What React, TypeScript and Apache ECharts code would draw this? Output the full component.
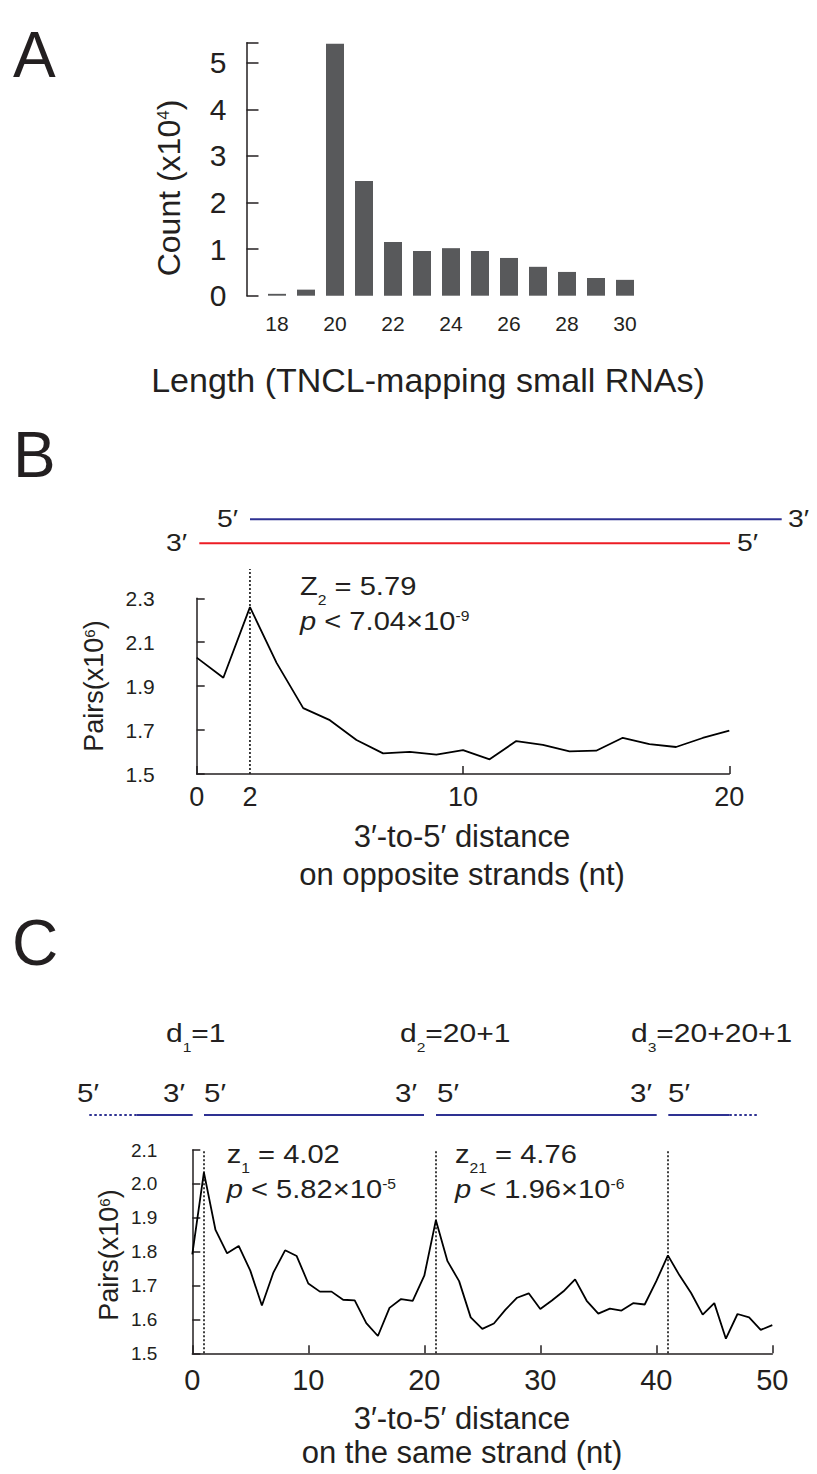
import React, { useEffect, useRef } from 'react';
import * as echarts from 'echarts';

const FONT = '"Liberation Sans", Arial, Helvetica, sans-serif';
const INK = '#231f20';
const BAR = '#58595b';
const BLUE = '#2e3192';
const RED = '#ed1c24';

// ---- Panel A: small RNA length distribution (count x10^4)
const lengthCategories = ['18', '19', '20', '21', '22', '23', '24', '25', '26', '27', '28', '29', '30'];
const lengthCounts = [0.04, 0.13, 5.41, 2.46, 1.15, 0.96, 1.02, 0.96, 0.81, 0.62, 0.51, 0.38, 0.34];

// ---- Panel B: 3'-to-5' distance on opposite strands (pairs x10^6)
const oppositeDistances = [0, 1, 2, 3, 4, 5, 6, 7, 8, 9, 10, 11, 12, 13, 14, 15, 16, 17, 18, 19, 20];
const oppositePairs = [2.03, 1.938, 2.26, 2.006, 1.8, 1.745, 1.655, 1.594, 1.601, 1.588, 1.609, 1.567, 1.65, 1.633, 1.603, 1.606, 1.665, 1.636, 1.623, 1.664, 1.697];
const oppositeLabelValues = [0, 2, 10, 20];
const oppositeTickValues = [0, 10, 20];
const oppositePeaks = [2];

// ---- Panel C: 3'-to-5' distance on the same strand (pairs x10^6)
const sameDistances = [0, 1, 2, 3, 4, 5, 6, 7, 8, 9, 10, 11, 12, 13, 14, 15, 16, 17, 18, 19, 20, 21, 22, 23, 24, 25, 26, 27, 28, 29, 30, 31, 32, 33, 34, 35, 36, 37, 38, 39, 40, 41, 42, 43, 44, 45, 46, 47, 48, 49, 50];
const samePairs = [1.792, 2.034, 1.864, 1.795, 1.817, 1.744, 1.641, 1.739, 1.804, 1.787, 1.706, 1.682, 1.682, 1.658, 1.656, 1.589, 1.551, 1.634, 1.66, 1.655, 1.729, 1.893, 1.772, 1.713, 1.606, 1.572, 1.588, 1.629, 1.664, 1.677, 1.631, 1.656, 1.683, 1.718, 1.655, 1.617, 1.632, 1.626, 1.648, 1.644, 1.713, 1.789, 1.73, 1.678, 1.614, 1.648, 1.543, 1.616, 1.606, 1.569, 1.583];
const samePeaks = [1, 21, 41];

type Part = { t: string; k?: 'm' | 'i' | 'sub' | 'sup' };

function richText(
  parts: Part[],
  F: number,
  x: number,
  baseline: number,
  opts: { align?: string; rotate?: boolean; fill?: string; subDrop?: number; subScale?: number; sx?: number } = {}
) {
  const LH = Math.round(F * 1.2);
  const base = LH / 2 + 0.3465 * F;
  const S = Math.round(F * (opts.subScale ?? 0.54));
  const subBase = base + (opts.subDrop ?? 0.38) * F;
  const subH = 2 * (subBase - 0.3465 * S);
  const supTop = base - 0.716 * F;
  const supBase = supTop + 0.716 * S;
  const supH = Math.max(1, 2 * (supBase - 0.3465 * S));
  const fill = opts.fill ?? INK;
  const common = { fontFamily: FONT, fill, verticalAlign: 'top' };
  const rich = {
    m: { ...common, fontSize: F, height: LH, lineHeight: LH },
    i: { ...common, fontSize: F, height: LH, lineHeight: LH, fontStyle: 'italic' },
    sub: { ...common, fontSize: S, height: subH, lineHeight: subH },
    sup: { ...common, fontSize: S, height: supH, lineHeight: supH },
  };
  const text = parts.map((p) => `{${p.k ?? 'm'}|${p.t}}`).join('');
  const sx = opts.sx ?? 1;
  if (opts.rotate) {
    return {
      type: 'text',
      x: x - base * sx,
      y: baseline,
      rotation: Math.PI / 2,
      scaleY: sx,
      silent: true,
      style: { text, rich, align: 'center', verticalAlign: 'top', fontFamily: FONT, fontSize: F, fill },
    };
  }
  return {
    type: 'text',
    x,
    y: baseline - base,
    scaleX: sx,
    silent: true,
    style: { text, rich, align: opts.align ?? 'left', verticalAlign: 'top', fontFamily: FONT, fontSize: F, fill },
  };
}

function hline(x1: number, x2: number, y: number, color: string, dotted = false) {
  return {
    type: 'line',
    silent: true,
    shape: { x1, y1: y, x2, y2: y },
    style: { stroke: color, lineWidth: 2, lineDash: dotted ? [2.5, 2.5] : null },
  };
}

const axisLineStyle = { color: INK, width: 1.5 };

export default function App() {
  const ref = useRef<HTMLDivElement>(null);

  useEffect(() => {
    if (!ref.current) return;
    const chart = echarts.init(ref.current, null, { renderer: 'svg' });

    const strand = { sx: 1.18 };
    const note = { sx: 1.12 };
    const dlab = { subDrop: 0.42, subScale: 0.5, sx: 1.2 };

    const graphics: any[] = [
      // panel letters
      richText([{ t: 'A' }], 64, 13, 77),
      richText([{ t: 'B' }], 64, 13, 477),
      richText([{ t: 'C' }], 64, 12, 965),

      // Panel A titles
      richText([{ t: 'Count (x10' }, { t: '4', k: 'sup' }, { t: ')' }], 32, 180, 188, { rotate: true }),
      richText([{ t: 'Length (TNCL-mapping small RNAs)' }], 34, 428, 392, { align: 'center' }),

      // Panel B strands
      hline(250, 781.7, 519.3, BLUE),
      hline(199.3, 730, 543.3, RED),
      richText([{ t: '5′' }], 24, 217, 526.7, strand),
      richText([{ t: '3′' }], 24, 788, 526.7, strand),
      richText([{ t: '3′' }], 24, 166, 551, strand),
      richText([{ t: '5′' }], 24, 737, 551, strand),

      // Panel B annotations
      richText([{ t: 'Z' }, { t: '2', k: 'sub' }, { t: ' = 5.79' }], 26, 300, 595, note),
      richText([{ t: 'p', k: 'i' }, { t: ' < 7.04×10' }, { t: '-9', k: 'sup' }], 26, 300, 630, note),
      richText([{ t: 'Pairs(x10' }, { t: '6', k: 'sup' }, { t: ')' }], 27, 103, 686, { rotate: true }),
      richText([{ t: '3′-to-5′ distance' }], 31, 462, 847, { align: 'center' }),
      richText([{ t: 'on opposite strands (nt)' }], 31, 462, 885, { align: 'center' }),

      // Panel C distance labels
      richText([{ t: 'd' }, { t: '1', k: 'sub' }, { t: '=1' }], 25, 166, 1041.7, dlab),
      richText([{ t: 'd' }, { t: '2', k: 'sub' }, { t: '=20+1' }], 25, 400, 1041.7, dlab),
      richText([{ t: 'd' }, { t: '3', k: 'sub' }, { t: '=20+20+1' }], 25, 631, 1041.7, dlab),

      // Panel C strands
      richText([{ t: '5′' }], 25, 77, 1101.7, strand),
      richText([{ t: '3′' }], 25, 163, 1101.7, strand),
      richText([{ t: '5′' }], 25, 204, 1101.7, strand),
      richText([{ t: '3′' }], 25, 395, 1101.7, strand),
      richText([{ t: '5′' }], 25, 437, 1101.7, strand),
      richText([{ t: '3′' }], 25, 630, 1101.7, strand),
      richText([{ t: '5′' }], 25, 668, 1101.7, strand),
      hline(89.3, 136.7, 1115, BLUE, true),
      hline(136.7, 192.7, 1115, BLUE),
      hline(204, 424, 1115, BLUE),
      hline(436, 656.7, 1115, BLUE),
      hline(668.3, 729.3, 1115, BLUE),
      hline(729.3, 759.3, 1115, BLUE, true),

      // Panel C annotations
      richText([{ t: 'z' }, { t: '1', k: 'sub' }, { t: ' = 4.02' }], 26, 226.7, 1163.3, note),
      richText([{ t: 'p', k: 'i' }, { t: ' < 5.82×10' }, { t: '-5', k: 'sup' }], 26, 226.7, 1198, note),
      richText([{ t: 'z' }, { t: '21', k: 'sub' }, { t: ' = 4.76' }], 26, 455, 1163.3, note),
      richText([{ t: 'p', k: 'i' }, { t: ' < 1.96×10' }, { t: '-6', k: 'sup' }], 26, 455, 1198, note),
      richText([{ t: 'Pairs(x10' }, { t: '6', k: 'sup' }, { t: ')' }], 27, 118, 1255, { rotate: true }),
      richText([{ t: '3′-to-5′ distance' }], 31, 462, 1429, { align: 'center' }),
      richText([{ t: 'on the same strand (nt)' }], 31, 462, 1463, { align: 'center' }),
    ];

    const option: any = {
      animation: false,
      textStyle: { fontFamily: FONT, color: INK },
      grid: [
        { left: 262.5, top: 42.7, width: 377, height: 253 },
        { left: 196.7, top: 598.3, width: 532.6, height: 175.7 },
        { left: 192.3, top: 1150, width: 580, height: 203.3 },
      ],
      xAxis: [
        {
          gridIndex: 0,
          type: 'category',
          data: lengthCategories,
          axisLine: { show: false },
          axisTick: { show: false },
          axisLabel: { interval: 1, fontSize: 21, margin: 17, color: INK, fontFamily: FONT },
        },
        {
          gridIndex: 1,
          type: 'value',
          min: 0,
          max: 20,
          splitLine: { show: false },
          axisLine: { show: true, onZero: false, lineStyle: axisLineStyle },
          axisTick: { show: true, inside: true, length: 8, lineStyle: axisLineStyle, customValues: oppositeTickValues },
          axisLabel: { fontSize: 27, margin: 9, color: INK, fontFamily: FONT, customValues: oppositeLabelValues },
        },
        {
          gridIndex: 2,
          type: 'value',
          min: 0,
          max: 50,
          interval: 10,
          splitLine: { show: false },
          axisLine: { show: true, onZero: false, lineStyle: axisLineStyle },
          axisTick: { show: true, inside: true, length: 8, lineStyle: axisLineStyle },
          axisLabel: { fontSize: 29, margin: 12, color: INK, fontFamily: FONT },
        },
      ],
      yAxis: [
        {
          gridIndex: 0,
          type: 'value',
          min: 0,
          max: 5.43,
          interval: 1,
          offset: 16,
          splitLine: { show: false },
          axisLine: { show: true, lineStyle: axisLineStyle },
          axisTick: { show: true, inside: true, length: 12, lineStyle: axisLineStyle },
          axisLabel: {
            fontSize: 30,
            margin: 20,
            color: INK,
            fontFamily: FONT,
            formatter: (v: number) => (Math.abs(v - Math.round(v)) < 1e-6 ? String(Math.round(v)) : ''),
          },
        },
        {
          gridIndex: 1,
          type: 'value',
          min: 1.5,
          max: 2.3,
          interval: 0.2,
          offset: 34,
          splitLine: { show: false },
          axisLine: { show: true, lineStyle: axisLineStyle },
          axisTick: { show: true, inside: true, length: 8, lineStyle: axisLineStyle },
          axisLabel: { fontSize: 21, margin: 8, color: INK, fontFamily: FONT, formatter: (v: number) => v.toFixed(1) },
        },
        {
          gridIndex: 2,
          type: 'value',
          min: 1.5,
          max: 2.1,
          interval: 0.1,
          offset: 15,
          splitLine: { show: false },
          axisLine: { show: true, lineStyle: axisLineStyle },
          axisTick: { show: true, inside: true, length: 8, lineStyle: axisLineStyle },
          axisLabel: { fontSize: 19, margin: 20, color: INK, fontFamily: FONT, formatter: (v: number) => v.toFixed(1) },
        },
      ],
      series: [
        {
          type: 'bar',
          xAxisIndex: 0,
          yAxisIndex: 0,
          data: lengthCounts,
          barWidth: 18,
          itemStyle: { color: BAR },
          silent: true,
        },
        {
          type: 'line',
          xAxisIndex: 1,
          yAxisIndex: 1,
          data: oppositePairs.map((v, i) => [oppositeDistances[i], v]),
          symbol: 'none',
          silent: true,
          lineStyle: { color: '#000', width: 1.8 },
        },
        {
          type: 'line',
          xAxisIndex: 2,
          yAxisIndex: 2,
          data: samePairs.map((v, i) => [sameDistances[i], v]),
          symbol: 'none',
          silent: true,
          lineStyle: { color: '#000', width: 1.8 },
          markLine: {
            silent: true,
            symbol: ['none', 'none'],
            label: { show: false },
            lineStyle: { color: '#000', width: 1.5, type: [2, 2] },
            data: samePeaks.map((p) => ({ xAxis: p })),
          },
        },
      ],
    };

    chart.setOption(option);

    // Dotted peak marker in panel B: runs from the x axis up above the plot, located via the axis scales.
    const peakLines = oppositePeaks.map((p) => {
      const a = chart.convertToPixel({ gridIndex: 1 }, [p, 1.5]) as number[];
      const b = chart.convertToPixel({ gridIndex: 1 }, [p, 2.433]) as number[];
      return {
        type: 'line',
        silent: true,
        shape: { x1: a[0], y1: a[1], x2: b[0], y2: b[1] },
        style: { stroke: '#000', lineWidth: 1.5, lineDash: [2, 2] },
      };
    });

    chart.setOption({ graphic: { elements: [...graphics, ...peakLines] } });
    return () => chart.dispose();
  }, []);

  return (
    <div
      ref={ref}
      style={{ position: 'absolute', left: 0, top: 0, width: 817, height: 1474, background: '#fff' }}
    />
  );
}
